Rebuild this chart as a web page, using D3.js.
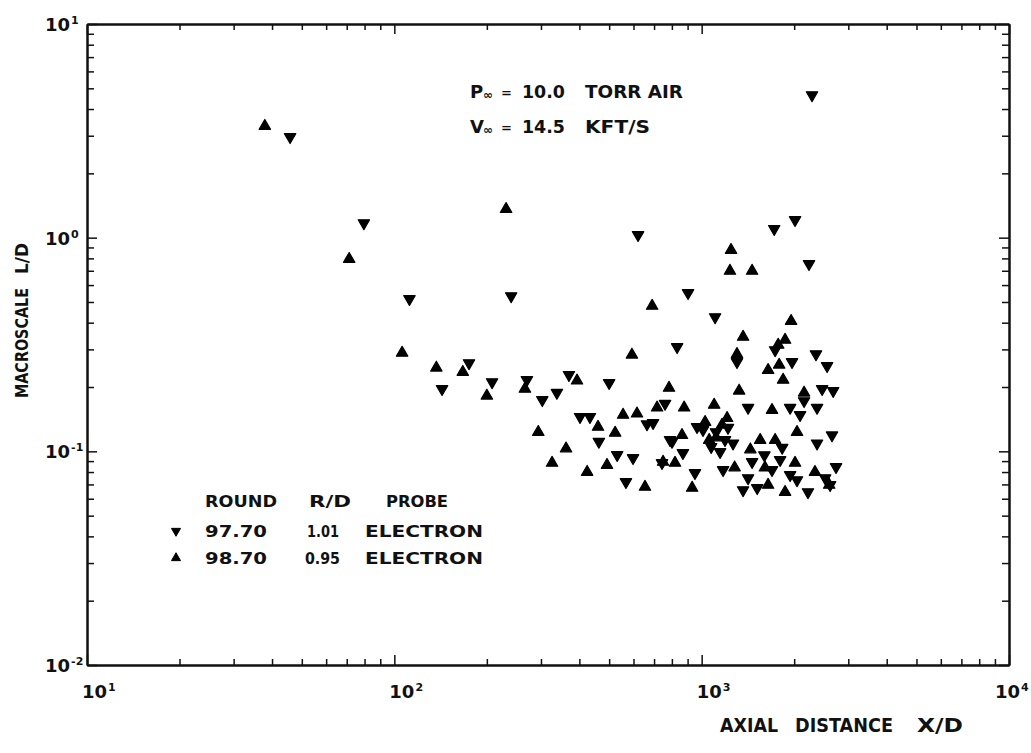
<!DOCTYPE html>
<html>
<head>
<meta charset="utf-8">
<script src="https://cdn.jsdelivr.net/npm/d3@7"></script>
<style>
  html, body { margin: 0; padding: 0; background: #fff; }
  svg { display: block; }
  text { font-family: "DejaVu Sans", sans-serif; font-weight: bold; fill: #111; }
</style>
</head>
<body>
<svg id="chart" width="1031" height="753"></svg>
<script>
// Macroscale L/D versus axial distance X/D, two electron-probe rounds.
// Each entry: [X/D, L/D]
const round9770 = [
  [45.8, 2.96], [2286, 4.65], [79.6, 1.17], [112, 0.517], [240, 0.533], [621, 1.03],
  [1722, 1.10], [2013, 1.21], [2235, 0.753], [1106, 0.425], [903, 0.551], [832, 0.308],
  [175, 0.259], [143, 0.196], [208, 0.211], [270, 0.216], [303, 0.174], [338, 0.188],
  [370, 0.228], [500, 0.209], [402, 0.145], [433, 0.145], [463, 0.111], [531, 0.0962],
  [598, 0.0931], [567, 0.0719], [664, 0.134], [695, 0.136], [760, 0.167], [789, 0.113],
  [869, 0.0983], [743, 0.0882], [951, 0.0792], [1416, 0.160], [1303, 0.262], [1265, 0.109],
  [1364, 0.0659], [1516, 0.0674], [1010, 0.126], [1074, 0.105], [1148, 0.0994], [1174, 0.0818],
  [1734, 0.298], [1968, 0.262], [2355, 0.285], [2559, 0.251], [2466, 0.196], [2679, 0.192],
  [2154, 0.172], [1940, 0.160], [2090, 0.148], [2374, 0.160], [2655, 0.119], [2374, 0.109],
  [1828, 0.104], [1800, 0.0912], [2737, 0.0845], [2523, 0.0750], [2618, 0.0696], [2218, 0.0645],
  [801, 0.111], [2043, 0.0734], [1600, 0.096], [1694, 0.0818], [1114, 0.123], [966, 0.130],
  [1218, 0.129], [1191, 0.113], [1459, 0.0892], [1416, 0.0750], [1940, 0.0775]
];
const round9870 = [
  [37.9, 3.33], [71.3, 0.794], [106, 0.289], [231, 1.36], [137, 0.246], [167, 0.235],
  [200, 0.182], [266, 0.196], [294, 0.123], [326, 0.0882], [362, 0.103], [393, 0.214],
  [460, 0.130], [424, 0.0800], [492, 0.0863], [523, 0.122], [555, 0.148], [616, 0.150],
  [690, 0.479], [593, 0.283], [654, 0.0681], [716, 0.160], [877, 0.160], [1098, 0.165],
  [783, 0.198], [863, 0.119], [819, 0.0882], [749, 0.0892], [931, 0.0674], [1324, 0.192],
  [1364, 0.343], [1303, 0.285], [1246, 0.875], [1236, 0.699], [1459, 0.699], [1694, 0.156],
  [1550, 0.113], [1210, 0.143], [1165, 0.133], [1058, 0.113], [1954, 0.407], [1774, 0.315],
  [1868, 0.332], [1645, 0.240], [1787, 0.254], [1841, 0.216], [2154, 0.188], [2043, 0.123],
  [1734, 0.113], [2013, 0.0882], [2337, 0.0800], [1868, 0.0645], [2600, 0.0696], [1440, 0.102],
  [1645, 0.0696], [1280, 0.084], [1026, 0.137], [1114, 0.116], [1607, 0.0839]
];

const xMajorTicks = [10, 100, 1000, 10000];
const xTickExponents = ["1", "2", "3", "4"];
const yMajorTicks = [0.01, 0.1, 1, 10];
const yTickExponents = ["-2", "-1", "0", "1"];

const legendHeader = ["ROUND", "R/D", "PROBE"];
const legendRounds = ["97.70", "98.70"];
const legendRD = ["1.01", "0.95"];
const legendProbe = ["ELECTRON", "ELECTRON"];

(function draw() {
  const svg = d3.select("#chart");
  const plotLeft = 87, plotRight = 1009, plotTop = 24, plotBottom = 665;

  const x = d3.scaleLog().domain([10, 1e4]).range([plotLeft, plotRight]);
  const y = d3.scaleLog().domain([1e-2, 10]).range([plotBottom, plotTop]);

  const xMinor = x.ticks().filter(v => !xMajorTicks.some(m => Math.abs(m - v) / m < 1e-9));
  const yMinor = y.ticks().filter(v => !yMajorTicks.some(m => Math.abs(m - v) / m < 1e-9));

  function styleAxis(g) {
    g.select(".domain").attr("stroke", "#111").attr("stroke-width", 2);
    g.selectAll(".tick line").attr("stroke", "#111").attr("stroke-width", 1.5);
    g.selectAll(".tick text").remove();
  }

  const axes = svg.append("g");
  function edge(axisFn, pos, horizontal) {
    const tr = horizontal ? `translate(0,${pos})` : `translate(${pos},0)`;
    const sc = horizontal ? x : y;
    const majors = horizontal ? xMajorTicks : yMajorTicks;
    const minors = horizontal ? xMinor : yMinor;
    axes.append("g").attr("transform", tr)
      .call(axisFn(sc).tickValues(minors).tickSize(horizontal ? 6 : 7).tickSizeOuter(0).tickFormat(""))
      .call(styleAxis);
    axes.append("g").attr("transform", tr)
      .call(axisFn(sc).tickValues(majors).tickSize(10).tickSizeOuter(0).tickFormat(""))
      .call(styleAxis);
  }
  edge(d3.axisTop, plotBottom, true);     // bottom edge, ticks pointing inward
  edge(d3.axisBottom, plotTop, true);     // top edge
  edge(d3.axisRight, plotLeft, false);    // left edge
  edge(d3.axisLeft, plotRight, false);    // right edge

  // power-of-ten tick labels
  function powerLabel(g, xPos, yBase, exp) {
    const t = g.append("text").attr("x", xPos).attr("y", yBase).attr("font-size", 18);
    t.append("tspan").text("10");
    t.append("tspan").attr("font-size", 11).attr("dy", -7).attr("dx", 1).text(exp);
  }
  const xLabels = svg.append("g");
  xMajorTicks.forEach((v, i) => {
    const px = Math.min(x(v) - 5, 1031 - 36);
    powerLabel(xLabels, px, 698, xTickExponents[i]);
  });
  const yLabels = svg.append("g");
  yMajorTicks.forEach((v, i) => {
    powerLabel(yLabels, 45, y(v) + 7, yTickExponents[i]);
  });

  // text helper; optional width stretches the lettering horizontally
  function label(g, str, xPos, yPos, size, len) {
    const t = g.append("text").attr("x", xPos).attr("y", yPos).attr("font-size", size).text(str);
    if (len) t.attr("textLength", len).attr("lengthAdjust", "spacingAndGlyphs");
    return t;
  }

  // axis titles
  const titles = svg.append("g");
  label(titles, "AXIAL", 720, 732, 19, 58);
  label(titles, "DISTANCE", 795, 732, 19, 98);
  label(titles, "X/D", 917, 732, 19, 46);
  const yTitle = titles.append("g").attr("transform", "translate(28,0) rotate(-90)");
  label(yTitle, "MACROSCALE", -398, 0, 17, 110);
  label(yTitle, "L/D", -274, 0, 17, 31);

  // free-stream conditions
  const cond = svg.append("g");
  function condLine(yBase, sym, value, unit, unitLen) {
    label(cond, sym, 470, yBase, 18);
    label(cond, "\u221e", 483, yBase + 1, 12);
    label(cond, "=", 501, yBase - 1, 13);
    label(cond, value, 522, yBase, 18, 43);
    label(cond, unit, 585, yBase, 18, unitLen);
  }
  condLine(98, "P", "10.0", "TORR  AIR", 98);
  condLine(133, "V", "14.5", "KFT/S", 65);

  // triangle markers
  const triPath = d3.symbol(d3.symbolTriangle, 56)();
  const smallPath = d3.symbol(d3.symbolTriangle, 36)();

  const marks = svg.append("g");
  marks.selectAll("path.down").data(round9770).join("path")
    .attr("class", "down")
    .attr("d", triPath)
    .attr("transform", d => `translate(${x(d[0])},${y(d[1])}) rotate(180)`)
    .attr("fill", "#000").attr("stroke", "#000").attr("stroke-width", 1.2).attr("stroke-linejoin", "round");
  marks.selectAll("path.up").data(round9870).join("path")
    .attr("class", "up")
    .attr("d", triPath)
    .attr("transform", d => `translate(${x(d[0])},${y(d[1])})`)
    .attr("fill", "#000").attr("stroke", "#000").attr("stroke-width", 1.2).attr("stroke-linejoin", "round");

  // legend table
  const leg = svg.append("g");
  label(leg, legendHeader[0], 205, 507, 16, 72);
  label(leg, legendHeader[1], 309, 507, 16, 42);
  label(leg, legendHeader[2], 386, 507, 16, 62);
  const rowY = [537, 564];
  legendRounds.forEach((r, i) => {
    leg.append("path").attr("d", smallPath)
      .attr("transform", `translate(176,${rowY[i] - 6}) rotate(${i === 0 ? 180 : 0})`)
      .attr("fill", "#000").attr("stroke", "#000").attr("stroke-width", 1).attr("stroke-linejoin", "round");
    label(leg, r, 205, rowY[i], 16, 62);
    label(leg, legendRD[i], i === 0 ? 307 : 305, rowY[i], 16, i === 0 ? 32 : 35);
    label(leg, legendProbe[i], 365, rowY[i], 16, 118);
  });
})();
</script>
</body>
</html>
